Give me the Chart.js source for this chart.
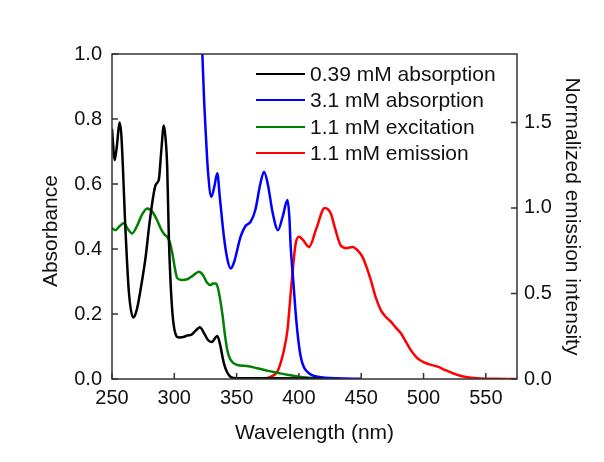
<!DOCTYPE html>
<html>
<head>
<meta charset="utf-8">
<script src="https://cdn.jsdelivr.net/npm/chart.js@4/dist/chart.umd.min.js"></script>
<style>
  html, body { margin: 0; padding: 0; background: #fff; }
  #wrap { position: relative; width: 604px; height: 462px; }
  #legend { position: absolute; left: 256px; top: 61px; font-family: "Liberation Sans", Arial, sans-serif; font-size: 21px; color: #111; }
  .item { display: flex; align-items: center; height: 26.3px; white-space: nowrap; }
  .swatch { width: 49px; height: 0; border-top: 2.5px solid; margin-right: 5px; }
</style>
</head>
<body>
<div id="wrap">
  <canvas id="c" width="604" height="462"></canvas>
  <div id="legend"></div>
</div>
<script>
// ---- data ----
const seriesNames = ["0.39 mM absorption", "3.1 mM absorption", "1.1 mM excitation", "1.1 mM emission"];

const abs039X = [250,252.2,254,256,257.5,260.8,263.5,267,270,274,277,280.4,285,287.6,289.5,291.6,293,294.3,295.6,297.5,299.7,303.7,308,310.4,313,317,320.5,324,327,330,334.5,336.5,339.8,342.5,345,350,380,420];
const abs039Y = [0.77,0.674,0.72,0.789,0.75,0.46,0.27,0.189,0.215,0.30,0.376,0.489,0.597,0.614,0.70,0.78,0.74,0.653,0.438,0.26,0.161,0.128,0.13,0.134,0.135,0.148,0.159,0.14,0.12,0.114,0.132,0.11,0.048,0.02,0.007,0.002,0.002,0.001];

const abs31X = [320,322.5,324,325.1,327,329.7,332,334.5,336.5,339.8,342.5,345.2,348,353.2,357,361.3,365,369,372,375,379,383.2,387,390.8,392.3,393.4,395.5,397.4,399.5,401.5,404,406.8,410,415,430,450];
const abs31Y = [1.3,1.0,0.85,0.766,0.64,0.561,0.59,0.633,0.56,0.438,0.37,0.34,0.36,0.438,0.47,0.484,0.52,0.60,0.638,0.60,0.51,0.458,0.50,0.551,0.50,0.407,0.30,0.202,0.12,0.068,0.036,0.022,0.013,0.007,0.002,0.001];

const excX = [250,252.8,256,259.5,263,266.2,270,274,278.3,282.3,286,289,292,294.3,296.5,298.4,300.5,302.4,306,310.4,315,319.7,323,326,329.1,331,333.2,335,338.5,340.5,342.5,345,350.6,358,366.7,375,382.7,392,400,408,416];
const excY = [0.464,0.458,0.47,0.479,0.46,0.448,0.47,0.505,0.525,0.515,0.49,0.464,0.445,0.437,0.42,0.387,0.34,0.31,0.305,0.307,0.318,0.33,0.32,0.298,0.289,0.294,0.294,0.28,0.202,0.14,0.089,0.06,0.043,0.04,0.033,0.025,0.019,0.012,0.007,0.004,0.002];

const emX = [370,373.3,378,382.7,386,388,390.8,392.8,394.8,397.4,400.1,403,408.1,414,420.7,425.6,429,433.6,438,443,448,451,454,457.7,461.5,465.7,469.5,473.8,477.8,481.8,486,489.8,494,497.9,504,511.3,518,527.4,535,543.4,555,575];
const emY = [0,0.003,0.015,0.043,0.11,0.17,0.286,0.45,0.617,0.792,0.831,0.815,0.772,0.88,1.0,0.967,0.88,0.78,0.765,0.772,0.745,0.714,0.66,0.578,0.48,0.403,0.365,0.335,0.30,0.267,0.215,0.169,0.13,0.107,0.087,0.072,0.05,0.023,0.01,0.004,0.001,0];

const xTicks = [250,300,350,400,450,500,550];
const leftTicks = [0,0.2,0.4,0.6,0.8,1.0];
const rightTicks = [0,0.5,1.0,1.5];

const colors = ["#000000", "#0000ff", "#008000", "#ff0000"];

// ---- build ----
const zip = (xs, ys) => xs.map((x, i) => ({x: x, y: ys[i]}));
const FONT = "'Liberation Sans', Arial, sans-serif";
const TXT = "#111";

const frameAndTicks = {
  id: 'frameAndTicks',
  afterDatasetsDraw(chart) {
    const {ctx, chartArea: a, scales} = chart;
    ctx.save();
    ctx.strokeStyle = "#333";
    ctx.lineWidth = 1.5;
    ctx.strokeRect(a.left, a.top, a.right - a.left, a.bottom - a.top);
    ctx.beginPath();
    const L = 6;
    scales.x.ticks.forEach(t => { const p = scales.x.getPixelForValue(t.value); ctx.moveTo(p, a.bottom); ctx.lineTo(p, a.bottom - L); });
    scales.y.ticks.forEach(t => { const p = scales.y.getPixelForValue(t.value); ctx.moveTo(a.left, p); ctx.lineTo(a.left + L, p); });
    scales.y2.ticks.forEach(t => { const p = scales.y2.getPixelForValue(t.value); ctx.moveTo(a.right, p); ctx.lineTo(a.right - L, p); });
    ctx.stroke();
    ctx.restore();
  }
};

const chart = new Chart(document.getElementById('c'), {
  type: 'line',
  data: {
    datasets: [
      { label: seriesNames[0], data: zip(abs039X, abs039Y), borderColor: colors[0], yAxisID: 'y' },
      { label: seriesNames[1], data: zip(abs31X, abs31Y), borderColor: colors[1], yAxisID: 'y' },
      { label: seriesNames[2], data: zip(excX, excY), borderColor: colors[2], yAxisID: 'y' },
      { label: seriesNames[3], data: zip(emX, emY), borderColor: colors[3], yAxisID: 'y2' }
    ]
  },
  options: {
    responsive: false,
    animation: false,
    devicePixelRatio: 1,
    elements: {
      point: { radius: 0 },
      line: { borderWidth: 2.5, cubicInterpolationMode: 'monotone', fill: false }
    },
    layout: { padding: { top: 54, left: 0, right: 0, bottom: 0 } },
    plugins: { legend: { display: false }, tooltip: { enabled: false } },
    scales: {
      x: {
        type: 'linear', position: 'bottom', min: 250, max: 575,
        afterBuildTicks: s => { s.ticks = xTicks.map(v => ({value: v})); },
        afterFit: s => { s.height = 83; },
        grid: { display: false, drawTicks: false },
        border: { display: false },
        ticks: { color: TXT, font: { family: FONT, size: 20 }, padding: 7, maxRotation: 0, callback: v => String(v) },
        title: { display: true, text: 'Wavelength (nm)', color: TXT, font: { family: FONT, size: 21 }, padding: { top: 0, bottom: 16.4 } }
      },
      y: {
        type: 'linear', position: 'left', min: 0, max: 1.0,
        afterBuildTicks: s => { s.ticks = leftTicks.map(v => ({value: v})); },
        afterFit: s => { s.width = 112; },
        grid: { display: false, drawTicks: false },
        border: { display: false },
        ticks: { color: TXT, font: { family: FONT, size: 20 }, padding: 10, callback: v => Number(v).toFixed(1) },
        title: { display: true, text: 'Absorbance\u00a0\u00a0\u00a0\u00a0\u00a0', color: TXT, font: { family: FONT, size: 21 }, padding: { top: 39, bottom: 0 } }
      },
      y2: {
        type: 'linear', position: 'right', min: 0, max: 1.9,
        afterBuildTicks: s => { s.ticks = rightTicks.map(v => ({value: v})); },
        afterFit: s => { s.width = 87; },
        grid: { display: false, drawTicks: false },
        border: { display: false },
        ticks: { color: TXT, font: { family: FONT, size: 20 }, padding: 7, callback: v => Number(v).toFixed(1) },
        title: { display: true, text: 'Normalized emission intensity', color: TXT, font: { family: FONT, size: 21 }, padding: { top: 19.7, bottom: 0 } }
      }
    }
  },
  plugins: [frameAndTicks]
});

// HTML legend built from the chart's datasets
const lg = document.getElementById('legend');
chart.data.datasets.forEach(ds => {
  const row = document.createElement('div'); row.className = 'item';
  const sw = document.createElement('span'); sw.className = 'swatch'; sw.style.borderTopColor = ds.borderColor;
  const tx = document.createElement('span'); tx.textContent = ds.label;
  row.appendChild(sw); row.appendChild(tx); lg.appendChild(row);
});
</script>
</body>
</html>
